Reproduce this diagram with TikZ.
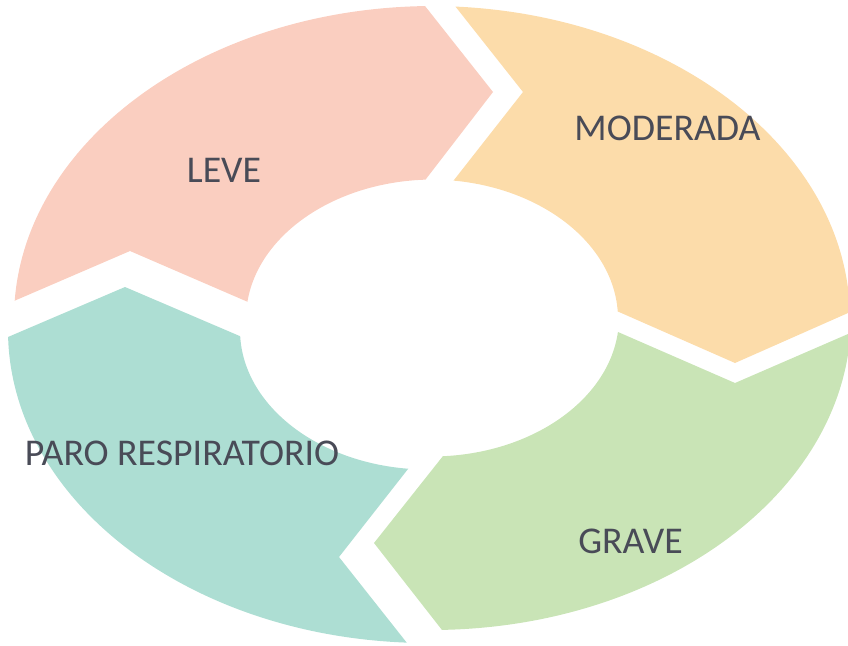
\documentclass[tikz,border=0pt]{standalone}
\usepackage{fontspec}
\setmainfont{Carlito}
\definecolor{pinkc}{HTML}{FACEC0}
\definecolor{orangec}{HTML}{FCDCAA}
\definecolor{greenc}{HTML}{C9E4B6}
\definecolor{tealc}{HTML}{ADDED3}
\definecolor{textc}{HTML}{494B57}
\begin{document}
\begin{tikzpicture}[x=1pt,y=-1pt,
  lbl/.style={text=textc,inner sep=0pt,font=\fontsize{37.8}{40}\selectfont},
  ring/.style={even odd rule}]
\useasboundingbox (0,0) rectangle (848,645);
% LEVE segment
\begin{scope}
\clip (-102,351) -- (130,251) -- (307,327.5) -- (392.5,222.5) -- (493,92) -- (357,-80) -- (-102,-80) -- cycle;
\fill[pinkc,ring] (434,319) ellipse [x radius=420pt, y radius=313pt]
                  (434,319) ellipse [x radius=188pt, y radius=139.5pt];
\end{scope}
% MODERADA segment
\begin{scope}
\clip (387,-80) -- (523,92) -- (419.5,224) -- (561,286.5) -- (735,363) -- (961,263) -- (961,-80) -- cycle;
\fill[orangec,ring] (430,319) ellipse [x radius=420pt, y radius=313pt]
                    (430,319) ellipse [x radius=188pt, y radius=139.5pt];
\end{scope}
% GRAVE segment
\begin{scope}
\clip (961,285) -- (735,383) -- (559.5,306.5) -- (477.5,412.5) -- (374,543) -- (510,717) -- (961,717) -- cycle;
\fill[greenc,ring] (431,317) ellipse [x radius=420pt, y radius=313pt]
                   (431,317) ellipse [x radius=188pt, y radius=139.5pt];
\end{scope}
% PARO RESPIRATORIO segment
\begin{scope}
\clip (475,729) -- (339,557) -- (442.5,425) -- (300.5,362) -- (125,287) -- (-109,387) -- (-109,729) -- cycle;
\fill[tealc,ring] (428,330) ellipse [x radius=420pt, y radius=313pt]
                  (428,330) ellipse [x radius=188pt, y radius=139.5pt];
\end{scope}
\node[lbl] (leve) at (224,170) {LEVE};
\node[lbl] (moderada) at (667.5,128) {MODERADA};
\node[lbl] (grave) at (630.5,541) {GRAVE};
\node[lbl] (paro) at (182,453.5) {PARO RESPIRATORIO};
\end{tikzpicture}
\end{document}
